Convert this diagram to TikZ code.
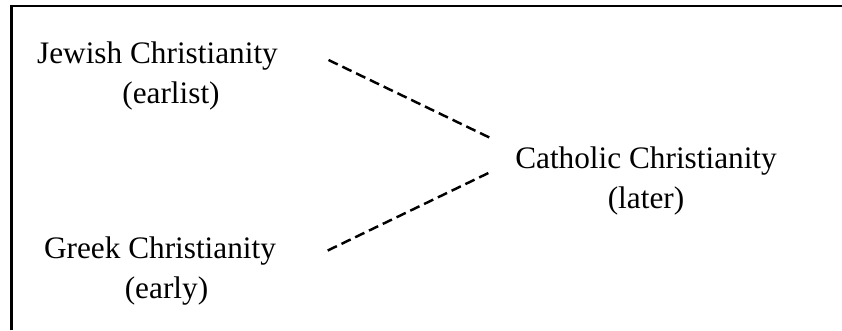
\documentclass[tikz,border=0pt]{standalone}
\usepackage{fontspec}
\setmainfont{Liberation Serif}
\usepackage{tikz}
\usepackage{xcolor}

\begin{document}
\begin{tikzpicture}[thick,
    lbl/.style={anchor=base, inner sep=0pt, font=\fontsize{17.8}{22}\selectfont},
    link/.style={line width=1.4pt, dash pattern=on 5.8pt off 2.9pt}]
  \useasboundingbox (0, 0) rectangle (16.84, 6.6);
  % Frame (left and top edges only)
  \draw[line width=1.5pt] (0.226, 0) -- (0.226, 6.48) -- (16.84, 6.48);
  % Earliest stage
  \node[lbl] (jewish) at (3.15, 5.34) {Jewish Christianity};
  \node[lbl] (jewishera) at (3.42, 4.54) {(earlist)};
  % Early stage
  \node[lbl] (greek) at (3.20, 1.44) {Greek Christianity};
  \node[lbl] (greekera) at (3.33, 0.64) {(early)};
  % Later stage
  \node[lbl] (catholic) at (12.92, 3.24) {Catholic Christianity};
  \node[lbl] (catholicera) at (12.92, 2.44) {(later)};
  % Dashed links into the later stage
  \draw[link] ([shift={(1cm,-0.09cm)}]jewish.east) -- ([shift={(-0.44cm,0.43cm)}]catholic.west);
  \draw[link] ([xshift=1.02cm]greek.east) -- ([shift={(-0.44cm,-0.21cm)}]catholic.west);
\end{tikzpicture}
\end{document}
